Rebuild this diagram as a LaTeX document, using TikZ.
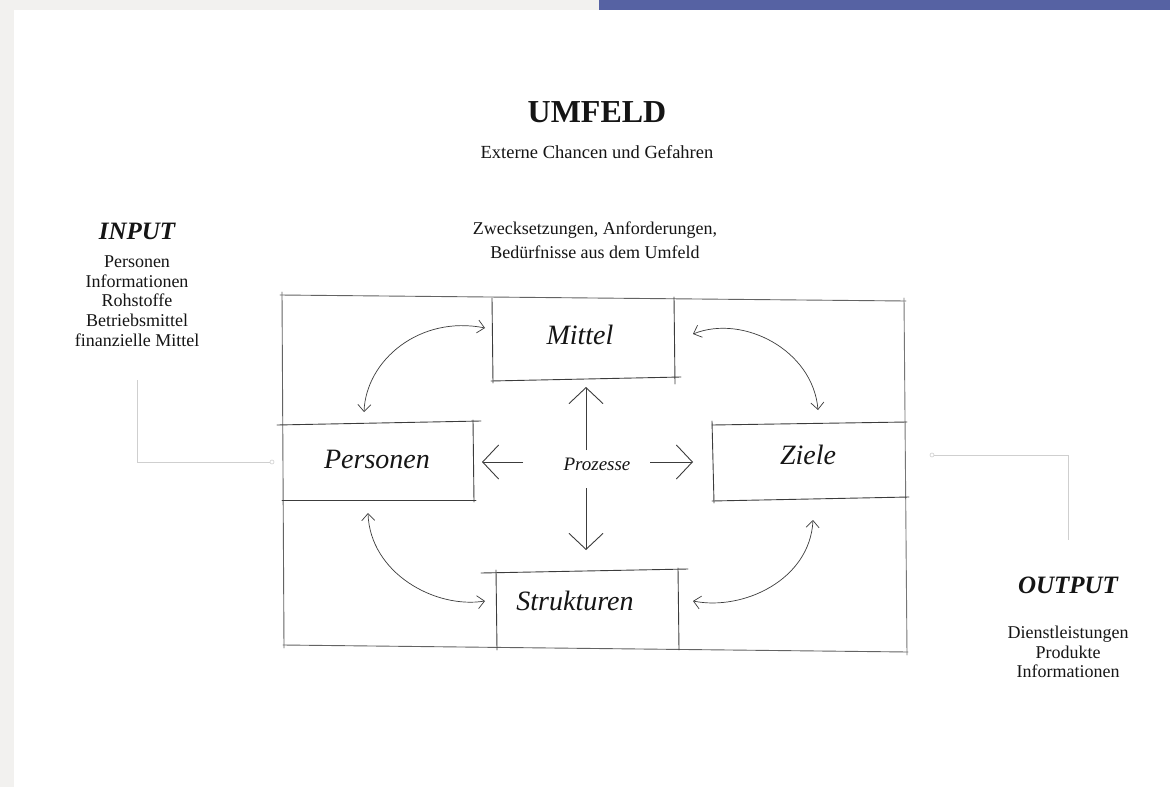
\documentclass[tikz,border=0pt]{standalone}
\usepackage{fontspec}
\setmainfont{Liberation Serif}
\usetikzlibrary{arrows.meta,positioning}

\definecolor{rand}{HTML}{F2F1EF}
\definecolor{balken}{HTML}{5662A3}
\definecolor{strich}{HTML}{3C3C3C}
\definecolor{leise}{HTML}{CFCFCF}
\definecolor{schrift}{HTML}{151515}

\tikzset{
  txt/.style={text=schrift, inner sep=0pt, align=center},
  klein/.style={txt, font=\fontsize{18}{24}\selectfont},
  liste/.style={txt, font=\fontsize{18}{19.7}\selectfont},
  titel/.style={txt, font=\fontsize{25}{30}\selectfont\bfseries\itshape},
  feld/.style={txt, font=\fontsize{28}{32}\selectfont\itshape},
  skizze/.style={draw=strich, line width=0.9pt, line cap=round},
  pfeil/.style={draw=strich, line width=0.9pt, -{Straight Barb[length=16pt,width=34pt]}},
  bogen/.style={draw=strich, line width=0.7pt, {Straight Barb[length=7pt,width=13pt]}-{Straight Barb[length=7pt,width=13pt]}},
  leitung/.style={draw=leise, line width=0.8pt},
  punkt/.style={circle, draw=leise, fill=white, line width=0.6pt, inner sep=0pt, minimum size=4pt}
}

\begin{document}
\begin{tikzpicture}[x=1pt, y=1pt]
  % Seite
  \fill[rand] (0,0) rectangle (1170,-787);
  \fill[white] (14,-10) rectangle (1170,-787);
  \fill[balken] (599,0) rectangle (1170,-10);
  \useasboundingbox (0,0) rectangle (1170,-787);

  % Umfeld
  \node[txt, font=\fontsize{32}{36}\selectfont\bfseries] (umfeld) at (597,-112) {UMFELD};
  \node[klein, font=\fontsize{18.5}{24}\selectfont] (umfeldtext) at (597,-152) {Externe Chancen und Gefahren};
  \node[klein] (zweck) at (595,-240) {Zwecksetzungen, Anforderungen,\\Bedürfnisse aus dem Umfeld};

  % Input / Output
  \node[titel] (input) at (137,-231) {INPUT};
  \node[liste] (inputliste) at (137,-301) {Personen\\Informationen\\Rohstoffe\\Betriebsmittel\\finanzielle Mittel};
  \node[titel] (output) at (1068,-585) {OUTPUT};
  \node[liste] (outputliste) at (1068,-652) {Dienstleistungen\\Produkte\\Informationen};
  \node[punkt] (inpunkt) at (272,-462) {};
  \node[punkt] (outpunkt) at (932,-455) {};

  % Rahmen (Skizze)
  \draw[skizze, draw=strich!80] (280,-295) -- (906,-301);
  \draw[skizze, draw=strich!80] (282,-292) -- (284,-648);
  \draw[skizze, draw=strich!80] (283,-645) -- (908,-652);
  \draw[skizze, draw=strich!70] (904,-298) -- (907,-655);

  % Felder
  \draw[skizze] (492,-298) -- (493,-383);
  \draw[skizze] (674,-297) -- (675,-384);
  \draw[skizze] (491,-381) -- (681,-377);
  \draw[skizze] (277,-425) -- (481,-421);
  \draw[skizze] (473,-420) -- (474,-502);
  \draw[skizze] (282,-500) -- (476,-500);
  \draw[skizze] (712,-421) -- (714,-503);
  \draw[skizze] (712,-425) -- (907,-422);
  \draw[skizze] (712,-501) -- (909,-497);
  \draw[skizze] (481,-573) -- (688,-569);
  \draw[skizze] (496,-570) -- (497,-650);
  \draw[skizze] (678,-568) -- (679,-650);

  \node[feld] (mittel) at (580,-335) {Mittel};
  \node[feld] (personen) at (377,-459) {Personen};
  \node[feld] (ziele) at (808,-455) {Ziele};
  \node[feld] (strukturen) at (575,-601) {Strukturen};
  \node[txt, font=\fontsize{19}{22}\selectfont\itshape] (prozesse) at (597,-464) {Prozesse};

  % Prozesse
  \draw[pfeil] ([xshift=-11pt,yshift=14pt]prozesse.center) -- ([xshift=6pt,yshift=-52pt]mittel.center);
  \draw[pfeil] ([xshift=-11pt,yshift=-24pt]prozesse.center) -- ([xshift=11pt,yshift=51pt]strukturen.center);
  \draw[pfeil] ([xshift=-74pt,yshift=2pt]prozesse.center) -- ([xshift=105pt,yshift=-3pt]personen.center);
  \draw[pfeil] ([xshift=53pt,yshift=2pt]prozesse.center) -- ([xshift=-115pt,yshift=-7pt]ziele.center);

  % Wechselwirkungen
  \draw[bogen] ([xshift=-13pt,yshift=47pt]personen.center) .. controls +(2,52) and +(-65,13) .. ([xshift=-95pt,yshift=7pt]mittel.center);
  \draw[bogen] ([xshift=113pt,yshift=1pt]mittel.center) .. controls +(50,20) and +(-5,60) .. ([xshift=10pt,yshift=45pt]ziele.center);
  \draw[bogen] ([xshift=-9pt,yshift=-54pt]personen.center) .. controls +(2,-60) and +(-50,-8) .. ([xshift=-90pt]strukturen.center);
  \draw[bogen] ([xshift=5pt,yshift=-65pt]ziele.center) .. controls +(-3,-60) and +(50,-10) .. ([xshift=118pt]strukturen.center);

  % Anbindung
  \draw[leitung] ([yshift=-79pt]inputliste.center) |- (inpunkt.west);
  \draw[leitung] (outpunkt.east) -| ([yshift=45pt]output.center);
\end{tikzpicture}
\end{document}
